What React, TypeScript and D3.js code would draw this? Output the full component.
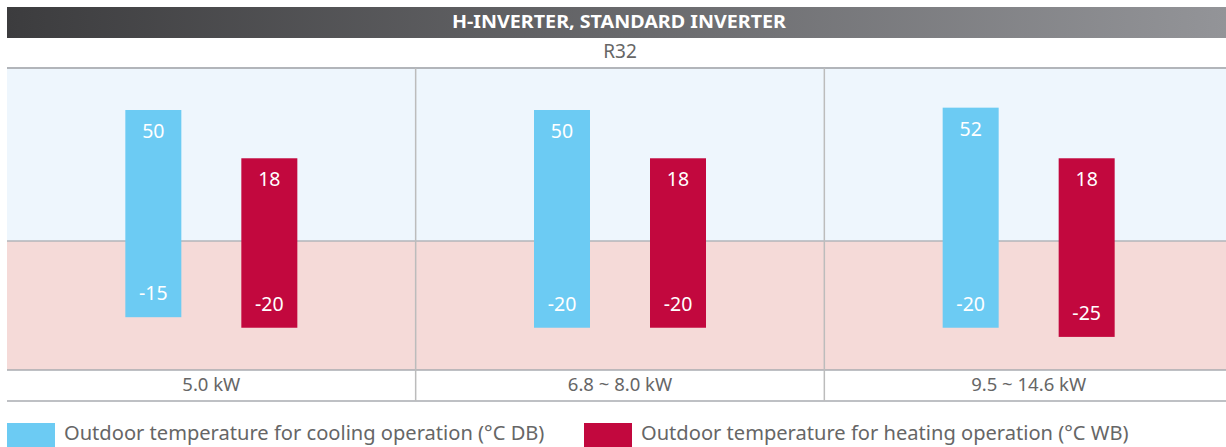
import * as d3 from "d3";

const categories = ["5.0 kW", "6.8 ~ 8.0 kW", "9.5 ~ 14.6 kW"];
const series = ["cooling", "heating"];
const coolingMax = [50, 50, 52];
const coolingMin = [-15, -20, -20];
const heatingMax = [18, 18, 18];
const heatingMin = [-20, -20, -25];
const legendLabels = [
  "Outdoor temperature for cooling operation (°C DB)",
  "Outdoor temperature for heating operation (°C WB)",
];

const W = 1226;
const H = 447;
const FONT = "'Noto Sans', 'Open Sans', sans-serif";
const COLORS: Record<string, string> = { cooling: "#6ccbf3", heating: "#c2083e" };

// plot band
const left = 7;
const top = 68;
const zeroY = 241;
const bottom = 370;
const rowBottom = 401;

export default function App() {
  const x = d3.scaleBand().domain(categories).range([left, 1233]);
  const sx = d3.scalePoint().domain(series).range([-58, 58]);
  // schematic scale: compressed around zero (power < 1, sign kept for negatives)
  const y = d3.scalePow().exponent(0.45).domain([0, 50]).range([zeroY, 110]);
  const barW = 56;

  const bars = categories.flatMap((c, i) => [
    { cat: c, s: "cooling", hi: coolingMax[i], lo: coolingMin[i] },
    { cat: c, s: "heating", hi: heatingMax[i], lo: heatingMin[i] },
  ]);

  return (
    <div style={{ position: "absolute", left: 0, top: 0 }}>
      <svg width={W} height={H} style={{ display: "block" }}>
        <defs>
          <linearGradient id="hdr" x1="0" x2="1" y1="0" y2="0">
            <stop offset="0" stopColor="#3c3c3e" />
            <stop offset="1" stopColor="#939498" />
          </linearGradient>
        </defs>
        <rect x={left} y={7} width={W - left} height={31} fill="url(#hdr)" />
        <text x={619} y={23} textAnchor="middle" dominantBaseline="middle"
          fill="#fff" fontFamily={FONT} fontWeight={700} fontSize={17}
          textLength={334} lengthAdjust="spacingAndGlyphs">
          H-INVERTER, STANDARD INVERTER
        </text>
        <text x={620} y={53} textAnchor="middle" dominantBaseline="middle"
          fill="#666" fontFamily={FONT} fontSize={19}>
          R32
        </text>

        <rect x={left} y={top} width={W - left} height={zeroY - top} fill="#eef6fd" />
        <rect x={left} y={zeroY} width={W - left} height={bottom - zeroY} fill="#f5dad8" />
        <line x1={left} x2={W} y1={top} y2={top} stroke="#b2b5ba" strokeWidth={2} />
        <line x1={left} x2={W} y1={zeroY} y2={zeroY} stroke="#b2b5ba" strokeWidth={1.5} />
        <line x1={left} x2={W} y1={bottom} y2={bottom} stroke="#a9abb0" strokeWidth={1.5} />
        <line x1={left} x2={W} y1={rowBottom} y2={rowBottom} stroke="#a9abb0" strokeWidth={1.5} />
        {categories.slice(1).map((c) => (
          <line key={c} x1={x(c)!} x2={x(c)!} y1={top} y2={rowBottom}
            stroke="#bcbcbc" strokeWidth={1.5} />
        ))}

        {bars.map((b) => {
          const cx = x(b.cat)! + x.bandwidth() / 2 + sx(b.s)!;
          const y0 = y(b.hi);
          const y1 = y(b.lo);
          return (
            <g key={b.cat + b.s}>
              <rect x={cx - barW / 2} y={y0} width={barW} height={y1 - y0} fill={COLORS[b.s]} />
              <text x={cx} y={y0 + 23} textAnchor="middle" dominantBaseline="middle"
                fill="#fff" fontFamily={FONT} fontSize={19.5}>{b.hi}</text>
              <text x={cx} y={y1 - 22} textAnchor="middle" dominantBaseline="middle"
                fill="#fff" fontFamily={FONT} fontSize={19.5}>{b.lo}</text>
            </g>
          );
        })}

        {categories.map((c) => (
          <text key={c} x={x(c)! + x.bandwidth() / 2} y={386} textAnchor="middle"
            dominantBaseline="middle" fill="#666" fontFamily={FONT} fontSize={18.5}>
            {c}
          </text>
        ))}

        {series.map((s, i) => {
          const lx = i === 0 ? left : 584;
          return (
            <g key={s}>
              <rect x={lx} y={423} width={48} height={24} fill={COLORS[s]} />
              <text x={lx + 57} y={435} dominantBaseline="middle" fill="#666"
                fontFamily={FONT} fontSize={20.1}>{legendLabels[i]}</text>
            </g>
          );
        })}
      </svg>
    </div>
  );
}
